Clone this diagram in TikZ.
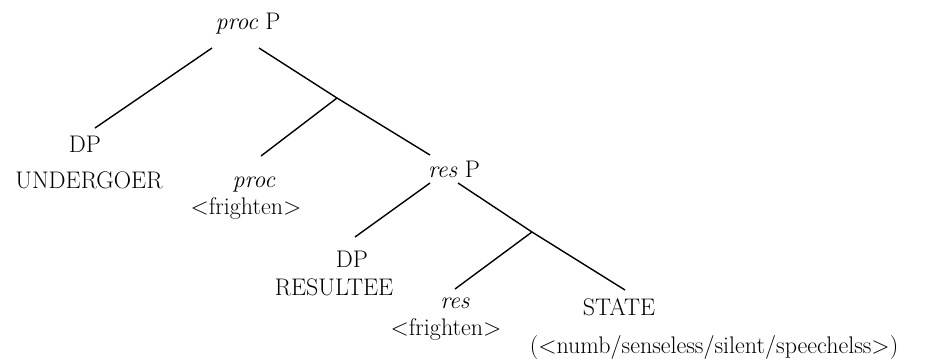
\documentclass[tikz,border=0pt]{standalone}
\usepackage{fontspec}
\begin{document}
\begin{tikzpicture}[x=1pt,y=-1pt,
  lbl/.style={inner sep=0pt,anchor=base,font=\fontsize{24}{28}\selectfont},
  branch/.style={line width=1.4pt}]
\useasboundingbox (0,0) rectangle (937,360);
% labels
\node[lbl] (procP) at (248,29) {\textit{proc} P};
\node[lbl] (dp1) at (85,152) {DP};
\node[lbl] (undergoer) at (89,188) {UNDERGOER};
\node[lbl] (proc) at (254,187) {\textit{proc}};
\node[lbl] (fr1) at (246,214) {\textless frighten\textgreater};
\node[lbl] (resP) at (454,177) {\textit{res} P};
\node[lbl] (dp2) at (352,267) {DP};
\node[lbl] (resultee) at (334,295) {RESULTEE};
\node[lbl] (res) at (455,308) {\textit{res}};
\node[lbl] (fr2) at (446,335) {\textless frighten\textgreater};
\node[lbl] (state) at (619,315) {STATE};
\node[lbl] (statelist) at (714,353) {(\textless numb/senseless/silent/speechelss\textgreater)};
% line ends
\coordinate (pPl) at (212,48);
\coordinate (pPr) at (259,48);
\coordinate (b1) at (337,98);
\coordinate (dp1t) at (95,128);
\coordinate (proct) at (261,156);
\coordinate (resPt) at (430,155);
\coordinate (rPl) at (430,183);
\coordinate (rPr) at (458,183);
\coordinate (b2) at (532,232);
\coordinate (dp2t) at (355,237);
\coordinate (rest) at (455,289);
\coordinate (statet) at (625,290);
% branches
\draw[branch] (pPl) -- (dp1t);
\draw[branch] (pPr) -- (b1) -- (resPt);
\draw[branch] (b1) -- (proct);
\draw[branch] (rPl) -- (dp2t);
\draw[branch] (rPr) -- (b2) -- (statet);
\draw[branch] (b2) -- (rest);
\end{tikzpicture}
\end{document}
